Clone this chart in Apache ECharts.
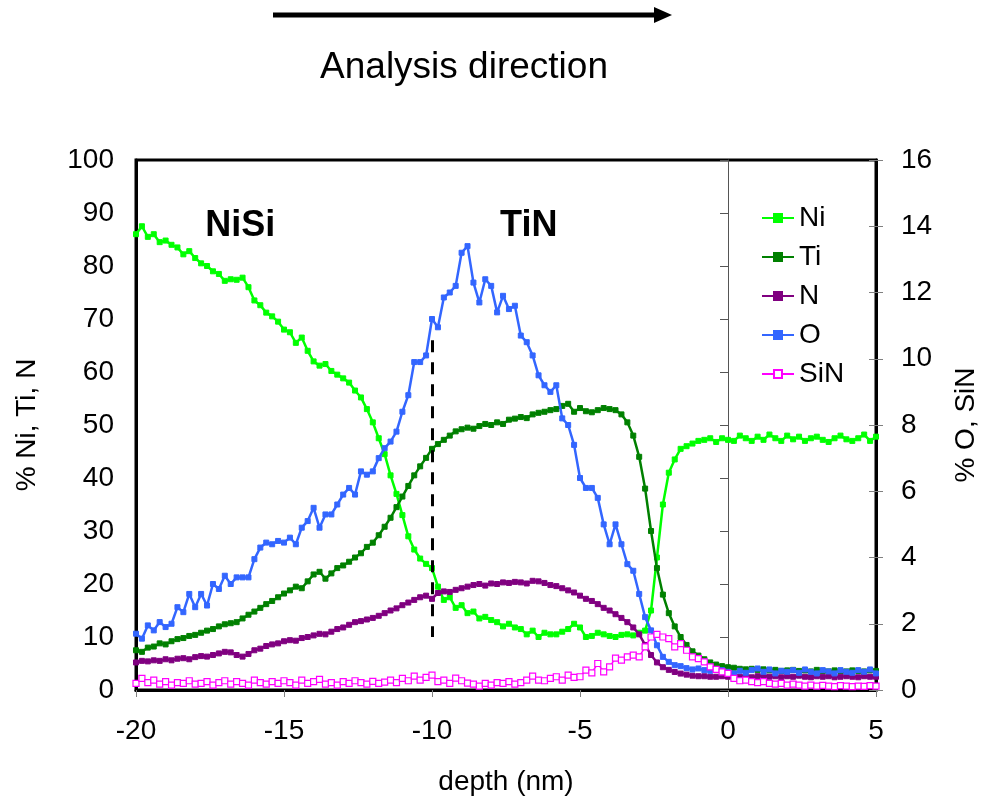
<!DOCTYPE html>
<html><head><meta charset="utf-8">
<script src="https://cdn.jsdelivr.net/npm/echarts@6/dist/echarts.min.js"></script>
<style>html,body{margin:0;padding:0;background:#fff}#c{width:988px;height:801px}</style>
</head><body><div id="c"></div>
<script>
// depth samples (nm)
const depth = [
 -20,-19.8,-19.6,-19.4,-19.2,-19,-18.8,-18.6,-18.4,-18.2,
 -18,-17.8,-17.6,-17.4,-17.2,-17,-16.8,-16.6,-16.4,-16.2,
 -16,-15.8,-15.6,-15.4,-15.2,-15,-14.8,-14.6,-14.4,-14.2,
 -14,-13.8,-13.6,-13.4,-13.2,-13,-12.8,-12.6,-12.4,-12.2,
 -12,-11.8,-11.6,-11.4,-11.2,-11,-10.8,-10.6,-10.4,-10.2,
 -10,-9.8,-9.6,-9.4,-9.2,-9,-8.8,-8.6,-8.4,-8.2,
 -8,-7.8,-7.6,-7.4,-7.2,-7,-6.8,-6.6,-6.4,-6.2,
 -6,-5.8,-5.6,-5.4,-5.2,-5,-4.8,-4.6,-4.4,-4.2,
 -4,-3.8,-3.6,-3.4,-3.2,-3,-2.8,-2.6,-2.4,-2.2,
 -2,-1.8,-1.6,-1.4,-1.2,-1,-0.8,-0.6,-0.4,-0.2,
 0,0.2,0.4,0.6,0.8,1,1.2,1.4,1.6,1.8,
 2,2.2,2.4,2.6,2.8,3,3.2,3.4,3.6,3.8,
 4,4.2,4.4,4.6,4.8,5
];
// left axis (%): Ni, Ti, N
const ni = [
 86,87.5,85.5,86,84.5,84.8,84,83.5,82.2,82.8,
 81.5,80.5,80,79,78.5,77.2,77.5,77.4,77.8,76,
 73.5,72.6,71.2,70.5,69.5,68,67.5,65.5,66.5,64,
 62,61.2,61.5,60.2,59.5,58.8,58,56.5,55.2,53,
 50.5,47.5,44.5,40.5,37,33,29,26.5,24.8,23.8,
 23,19.5,17,17.5,15.5,16,14.5,14.8,13.5,13.8,
 13.2,12.8,12,12.5,11.8,11.5,10.5,11.2,10,10.8,
 10.5,10.5,11,11.5,12.5,11.8,10,10.2,10.8,10.5,
 10.2,10,10.4,10.5,10.3,10.8,11.2,15,25,35,
 41,43.5,45.5,46,46.5,47,47.2,47.5,46.8,47.5,
 47.2,47,48,47.5,47,47.8,47.2,48.2,47.5,47,
 48,47.3,47.8,47,47.5,47.8,47.2,46.8,47.5,48,
 47.3,47,47.5,48.2,47,47.8
];
const ti = [
 7.5,7.2,8,8.2,8.8,8.6,9.2,9.6,9.8,10.2,
 10.4,10.8,11.2,11.5,12,12.4,12.6,12.8,13.5,14.2,
 14.8,15.5,16.2,16.8,17.5,18.2,18.8,19.5,19.2,20.5,
 21.8,22.3,21,22,23,23.5,24.2,25,25.8,27,
 27.8,29.2,30.8,32.5,34.5,36.5,38.5,40.5,42.2,43.8,
 45.5,46.4,47.2,48,48.8,49.2,49.5,49.3,49.8,50.2,
 50,50.5,50.2,51,51.2,51.5,51.3,52,52.3,52.5,
 52.8,53,53.6,54,52.5,53.2,52.6,52.4,52.8,53.2,
 53,52.8,52,50.5,48,44,38,30,23,18,
 14.5,12,10,8.5,7.3,6.5,5.8,5.2,4.8,4.5,
 4.3,4.2,4,3.9,4,3.8,3.9,3.7,3.8,3.6,
 3.7,3.8,3.6,3.7,3.5,3.8,3.6,3.5,3.7,3.6,
 3.5,3.7,3.6,3.5,3.7,3.6
];
const nn = [
 5.2,5.5,5.4,5.6,5.5,5.8,5.6,5.9,6,5.8,
 6.2,6.4,6.3,6.6,6.9,7.2,7.1,6.6,6.3,6.8,
 7.5,7.8,8.3,8.6,8.8,9.2,9.4,9.3,9.8,10,
 10.3,10.6,10.5,11,11.5,11.8,12.3,12.8,13,13.3,
 13.6,14,14.5,15,15.4,16,16.5,17,17.5,17.8,
 17.2,18.3,18.6,18.5,18.9,19.2,19.5,19.8,20,19.7,
 20.1,20,20.3,20.2,20.4,20.3,20.1,20.6,20.5,20.2,
 19.8,19.6,19.2,18.8,18.4,17.8,17.2,16.8,16.2,15.5,
 15,14.3,13.6,12.8,11.8,10.5,8.5,6.6,5.2,4.3,
 3.8,3.4,3.1,2.9,2.7,2.6,2.6,2.5,2.5,2.6,
 2.5,2.7,2.5,2.6,2.4,2.6,2.7,2.5,2.6,2.4,
 2.6,2.5,2.7,2.5,2.4,2.6,2.5,2.6,2.4,2.5,
 2.6,2.5,2.4,2.6,2.5,2.5
];
// right axis (%): O, SiN
const oo = [
 1.7,1.55,1.95,1.8,2.05,1.9,2.0,2.5,2.35,2.9,
 2.5,2.9,2.55,3.2,3.05,3.45,3.2,3.4,3.4,3.4,
 3.95,4.3,4.45,4.4,4.5,4.45,4.6,4.4,4.9,5.1,
 5.5,4.9,5.3,5.3,5.6,5.9,6.1,5.9,6.6,6.5,
 6.6,7.0,7.3,7.5,7.8,8.4,8.9,9.9,9.9,10.1,
 11.2,10.95,11.85,12.0,12.2,13.2,13.4,12.3,11.7,12.4,
 12.2,11.4,11.9,11.5,11.6,10.7,10.5,10.1,9.5,9.2,
 9.0,9.2,8.2,8.0,7.4,6.4,6.1,6.1,5.8,5.0,
 4.4,5.0,4.4,3.8,3.6,2.9,2.2,1.8,1.35,1.0,
 0.85,0.75,0.72,0.66,0.62,0.65,0.6,0.58,0.62,0.6,
 0.55,0.5,0.58,0.52,0.6,0.65,0.55,0.62,0.5,0.58,
 0.55,0.6,0.52,0.62,0.55,0.5,0.6,0.56,0.5,0.6,
 0.55,0.52,0.6,0.55,0.62,0.5
];
const sin = [
 0.2,0.35,0.22,0.3,0.18,0.25,0.15,0.22,0.2,0.28,
 0.18,0.2,0.25,0.15,0.22,0.28,0.18,0.25,0.2,0.15,
 0.3,0.22,0.18,0.25,0.2,0.28,0.22,0.15,0.3,0.2,
 0.25,0.32,0.18,0.22,0.15,0.25,0.2,0.28,0.22,0.18,
 0.26,0.2,0.24,0.3,0.22,0.35,0.28,0.42,0.3,0.38,
 0.45,0.25,0.3,0.2,0.36,0.28,0.21,0.18,0.12,0.2,
 0.15,0.22,0.2,0.25,0.18,0.22,0.3,0.42,0.3,0.28,
 0.35,0.4,0.3,0.45,0.38,0.4,0.6,0.52,0.8,0.55,
 0.7,0.96,0.9,1.0,1.05,1.0,1.3,1.6,1.68,1.6,
 1.55,1.3,1.4,1.2,1.0,0.95,0.85,0.7,0.62,0.55,
 0.5,0.35,0.28,0.3,0.25,0.22,0.25,0.2,0.18,0.2,
 0.15,0.18,0.15,0.12,0.15,0.12,0.14,0.12,0.1,0.13,
 0.12,0.1,0.12,0.11,0.13,0.12
];
const seriesNames = ['Ni','Ti','N','O','SiN'];
const seriesColors = ['#00FF00','#008000','#800080','#3366FF','#FF00FF'];
const dashedMarker = [[-10, 66], [-10, 10]];
const regionLabels = [{text:'NiSi', at:[-16.48, 87.5]}, {text:'TiN', at:[-6.73, 87.5]}];

const FONT = '"Liberation Sans", Arial, Helvetica, sans-serif';
const chart = echarts.init(document.getElementById('c'), null, {renderer:'canvas'});

function pairs(v){ return depth.map((d,i)=>[d, v[i]]); }
function mk(idx, values, yIdx, hollow){
  const col = seriesColors[idx];
  return {
    name: seriesNames[idx], type:'line', data: pairs(values), yAxisIndex: yIdx,
    symbol:'rect', symbolSize: hollow ? 6 : 5, showSymbol:true,
    lineStyle:{color:col, width: hollow ? 1.5 : 2.5},
    itemStyle:{color: hollow ? '#ffffff' : col, borderColor: col, borderWidth: hollow ? 1.2 : 1},
    emphasis:{disabled:true}, animation:false, z: 3 + idx
  };
}
const sNi = mk(0, ni, 0, false);
sNi.markLine = {
  silent:true, symbol:['none','none'], animation:false,
  label:{show:false},
  lineStyle:{color:'#000', width:3, type:[12,10]},
  data:[[{coord: dashedMarker[0]}, {coord: dashedMarker[1]}]]
};

const axisText = {fontSize:28, color:'#000', fontFamily:FONT};
const option = {
  backgroundColor:'#fff',
  animation:false,
  grid:{left:136, right:110, top:160, bottom:109, show:true, borderColor:'#000', borderWidth:3, backgroundColor:'transparent'},
  legend:{
    orient:'vertical', left:756, top:199, itemGap:11, itemWidth:32, itemHeight:10,
    data: seriesNames,
    textStyle:{fontSize:28, color:'#000', fontFamily:FONT},
    selectedMode:false
  },
  xAxis:{
    type:'value', min:-20, max:5, interval:5,
    axisLine:{onZero:false, lineStyle:{color:'#000', width:3}},
    axisTick:{show:true, length:7, lineStyle:{color:'#808080', width:1}},
    axisLabel:Object.assign({margin:27}, axisText),
    splitLine:{show:false},
    name:'depth (nm)', nameLocation:'middle', nameGap:78, nameTextStyle:axisText
  },
  yAxis:[
    {type:'value', position:'left', min:0, max:100, interval:10,
     axisLine:{show:true, onZero:false, lineStyle:{color:'#000', width:3}},
     axisTick:{show:false}, axisLabel:Object.assign({margin:22}, axisText),
     splitLine:{show:false},
     name:'% Ni, Ti, N', nameLocation:'middle', nameGap:95, nameRotate:90, nameTextStyle:axisText},
    {type:'value', position:'right', min:0, max:16, interval:2,
     axisLine:{show:true, onZero:false, lineStyle:{color:'#000', width:3}},
     axisTick:{show:true, length:7, lineStyle:{color:'#808080', width:1}},
     axisLabel:Object.assign({margin:25}, axisText),
     splitLine:{show:false},
     name:'% O, SiN', nameLocation:'middle', nameGap:76, nameRotate:90, nameTextStyle:axisText},
    {type:'value', position:'right', min:0, max:16, interval:2,
     axisLine:{show:false, onZero:false},
     axisTick:{show:true, inside:true, length:7, lineStyle:{color:'#808080', width:1}},
     axisLabel:{show:false}, splitLine:{show:false}},
    {type:'value', position:'left', min:0, max:100, interval:10,
     axisLine:{show:true, onZero:true, lineStyle:{color:'#555', width:1}},
     axisTick:{show:true, length:8, lineStyle:{color:'#555', width:1}},
     axisLabel:{show:false}, splitLine:{show:false}}
  ],
  series:[
    sNi,
    mk(1, ti, 0, false),
    mk(2, nn, 0, false),
    mk(3, oo, 1, false),
    mk(4, sin, 1, true)
  ]
};
chart.setOption(option);

const graphics = [
  {type:'line', shape:{x1:273, y1:15, x2:656, y2:15}, style:{stroke:'#000', lineWidth:5}},
  {type:'polygon', shape:{points:[[654,7],[672,15],[654,23]]}, style:{fill:'#000'}},
  {type:'text', style:{text:'Analysis direction', x:464, y:68, align:'center', verticalAlign:'middle', font:'37px ' + FONT, fill:'#000'}}
];
regionLabels.forEach(r => {
  const p = chart.convertToPixel({xAxisIndex:0, yAxisIndex:0}, r.at);
  graphics.push({type:'text', style:{text:r.text, x:p[0], y:p[1], align:'center', verticalAlign:'middle', font:'bold 36px ' + FONT, fill:'#000'}, z:10});
});
chart.setOption({graphic: graphics});
</script>
</body></html>
